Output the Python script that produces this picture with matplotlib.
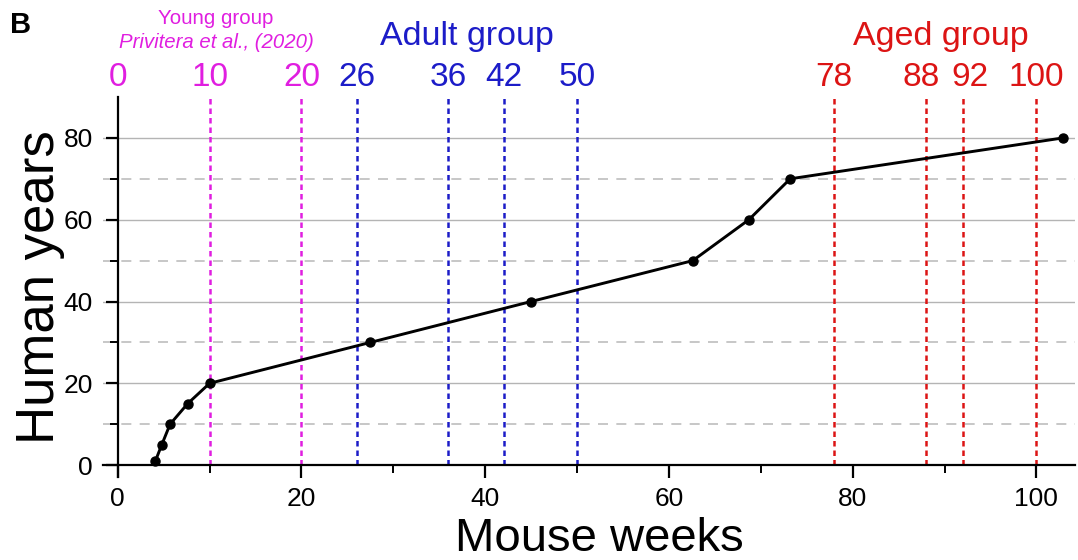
import numpy as np
import matplotlib.pyplot as plt
from matplotlib.transforms import blended_transform_factory, offset_copy

plt.rcParams['font.family'] = ['Liberation Sans', 'DejaVu Sans']

# ---------------------------------------------------------------------------
# Data
# ---------------------------------------------------------------------------

mouse_weeks = [4.1, 4.8, 5.7, 7.6, 10.0, 27.5, 45.0, 62.6, 68.7, 73.2, 102.9]
human_years = [1, 5, 10, 15, 20, 30, 40, 50, 60, 70, 80]

young_weeks = [0, 10, 20]
adult_weeks = [26, 36, 42, 50]
aged_weeks  = [78, 88, 92, 100]

c_young = "#e01ee0"
c_adult = "#1c1cc8"
c_aged  = "#dc1414"

# small horizontal nudges (pixels) so crowded labels do not touch
label_nudge = {88: -5, 92: 7}

# ---------------------------------------------------------------------------
# Figure
# ---------------------------------------------------------------------------

fig = plt.figure(figsize=(10.78, 5.6), dpi=100)
ax = fig.add_axes([103 / 1078, 83 / 560, 972 / 1078, 380 / 560])
ax.set_xlim(-1.6, 104.2)
ax.set_ylim(-2.9, 90)

# grid lines
for y in [20, 40, 60, 80]:
    ax.axhline(y, color="#b4b4b4", lw=1.0, zorder=1)
for y in [10, 30, 50, 70]:
    ax.axhline(y, color="#bdbdbd", lw=1.2, ls=(0, (6, 5)), zorder=1)

# group lines (skip 0)
for weeks, col in [(young_weeks, c_young), (adult_weeks, c_adult), (aged_weeks, c_aged)]:
    for w in weeks:
        if w == 0:
            continue
        ax.plot([w, w], [0, 90], color=col, lw=1.8, ls=(0, (2.2, 1.6)), zorder=2,
                clip_on=False)

ax.plot(mouse_weeks, human_years, color="black", lw=2.1, marker="o",
        markersize=6.5, zorder=4)

# spines
for s in ["top", "right"]:
    ax.spines[s].set_visible(False)
ax.spines["left"].set_position(("data", 0))
ax.spines["bottom"].set_position(("data", 0))
for s in ["left", "bottom"]:
    ax.spines[s].set_linewidth(1.6)
    ax.spines[s].set_zorder(5)

ax.set_xticks(np.arange(0, 101, 20))
ax.set_xticks(np.arange(10, 100, 20), minor=True)
ax.set_yticks(np.arange(0, 81, 20))
ax.set_yticks(np.arange(10, 80, 20), minor=True)
ax.tick_params(which="major", direction="out", length=9, width=1.6,
               labelsize=19, pad=7)
ax.tick_params(which="minor", direction="out", length=6, width=1.4)
ax.tick_params(axis="y", which="major", pad=9)

ax.set_xlabel("Mouse weeks", fontsize=34, va="center")
ax.xaxis.set_label_coords(0.511, -0.163)
ax.set_ylabel("Human years", fontsize=38, va="center")
ax.yaxis.set_label_coords(-0.065, 0.5)

# top labels
trans = blended_transform_factory(ax.transData, fig.transFigure)
for weeks, col in [(young_weeks, c_young), (adult_weeks, c_adult), (aged_weeks, c_aged)]:
    for w in weeks:
        t = offset_copy(trans, fig=fig, x=label_nudge.get(w, 0), units="dots")
        ax.text(w, 1 - 78 / 560, str(w), transform=t, color=col,
                fontsize=24, ha="center", va="center", clip_on=False)

ax.text(10.7, 1 - 18 / 560, "Young group", transform=trans, color=c_young,
        fontsize=14.8, ha="center", va="center")
ax.text(10.7, 1 - 43 / 560, "Privitera et al., (2020)", transform=trans,
        color=c_young, fontsize=14.7, style="italic", ha="center", va="center")
ax.text(38.0, 1 - 36 / 560, "Adult group", transform=trans, color=c_adult,
        fontsize=24.5, ha="center", va="center")
ax.text(89.6, 1 - 36 / 560, "Aged group", transform=trans, color=c_aged,
        fontsize=24.5, ha="center", va="center")

fig.text(10 / 1078, 1 - 25 / 560, "B", fontsize=21, fontweight="bold",
         ha="left", va="center")

plt.savefig("out.png", dpi=100)
plt.close()
